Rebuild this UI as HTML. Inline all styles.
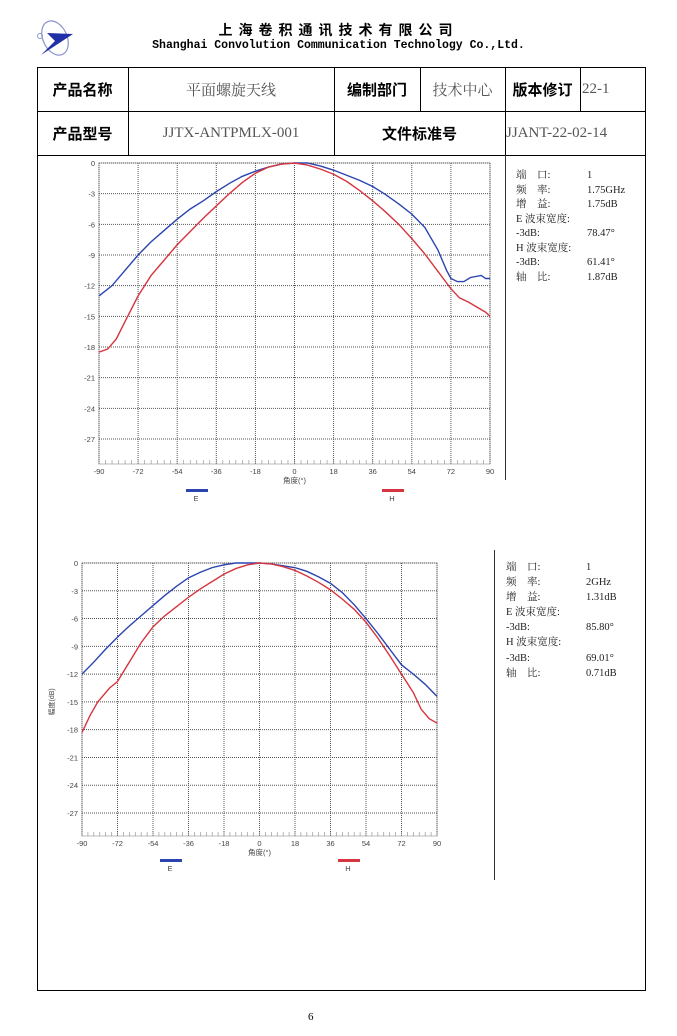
<!DOCTYPE html>
<html><head><meta charset="utf-8">
<style>
body{margin:0;width:677px;height:1036px;background:#fff;position:relative;font-family:"Liberation Serif","Noto Serif CJK SC",serif;overflow:hidden}
.a{position:absolute}
.cell{position:absolute;display:flex;align-items:center;justify-content:center;font-size:15px}
.b{font-weight:bold;font-family:"Liberation Sans","Noto Sans CJK SC",sans-serif;color:#000}
.g{color:#555}
.info{position:absolute;font-size:10.5px;color:#222;white-space:nowrap;line-height:14.5px}
.info div{position:relative;height:14.5px}
.info span{position:absolute;top:0}
</style></head><body>
<svg class="a" style="left:35px;top:17px" width="42" height="42" viewBox="0 0 42 42">
<ellipse cx="20" cy="21" rx="12" ry="18" fill="none" stroke="#8b95c9" stroke-width="1.2" transform="rotate(-25 20 21)"/>
<circle cx="5" cy="19" r="2.5" fill="none" stroke="#8b95c9"/>
<polygon points="12,16 38,17 6,38 20,24" fill="#2230a8"/>
</svg>
<div class="a b" style="left:0;width:677px;top:20px;text-align:center;font-size:14px;letter-spacing:6px">上海卷积通讯技术有限公司</div>
<div class="a" style="left:0;width:677px;top:39px;text-align:center;font-size:11.5px;font-weight:bold;font-family:'Liberation Mono',monospace">Shanghai Convolution Communication Technology Co.,Ltd.</div>

<div class="a" style="left:37px;top:67px;width:607px;height:922px;border:1px solid #000"></div>
<div class="a" style="left:37px;top:111px;width:608px;height:1px;background:#000"></div>
<div class="a" style="left:37px;top:155px;width:608px;height:1px;background:#000"></div>
<div class="a" style="left:128px;top:67px;width:1px;height:88px;background:#000"></div>
<div class="a" style="left:334px;top:67px;width:1px;height:88px;background:#000"></div>
<div class="a" style="left:420px;top:67px;width:1px;height:44px;background:#000"></div>
<div class="a" style="left:505px;top:67px;width:1px;height:88px;background:#000"></div>
<div class="a" style="left:580px;top:67px;width:1px;height:44px;background:#000"></div>

<div class="cell b" style="left:37px;top:67px;width:91px;height:44px">产品名称</div>
<div class="cell g" style="left:128px;top:67px;width:206px;height:44px">平面螺旋天线</div>
<div class="cell b" style="left:334px;top:67px;width:86px;height:44px">编制部门</div>
<div class="cell g" style="left:420px;top:67px;width:85px;height:44px">技术中心</div>
<div class="cell b" style="left:505px;top:67px;width:75px;height:44px">版本修订</div>
<div class="cell g" style="left:582px;top:67px;width:40px;height:44px;justify-content:flex-start">22-1</div>
<div class="cell b" style="left:37px;top:111px;width:91px;height:44px">产品型号</div>
<div class="cell g" style="left:128px;top:111px;width:206px;height:44px">JJTX-ANTPMLX-001</div>
<div class="cell b" style="left:334px;top:111px;width:171px;height:44px">文件标准号</div>
<div class="cell g" style="left:506px;top:111px;width:120px;height:44px;justify-content:flex-start">JJANT-22-02-14</div>

<div class="a" style="left:505px;top:155px;width:1px;height:325px;background:#333"></div>
<div class="a" style="left:494px;top:550px;width:1px;height:330px;background:#333"></div>

<div class="info" style="left:516px;top:169px;width:120px"><div><span>端　口:</span><span style="left:71px">1</span></div><div><span>频　率:</span><span style="left:71px">1.75GHz</span></div><div><span>增　益:</span><span style="left:71px">1.75dB</span></div><div><span>E 波束宽度:</span></div><div><span>-3dB:</span><span style="left:71px">78.47°</span></div><div><span>H 波束宽度:</span></div><div><span>-3dB:</span><span style="left:71px">61.41°</span></div><div><span>轴　比:</span><span style="left:71px">1.87dB</span></div></div>
<div class="info" style="left:506px;top:561px;width:120px"><div style="height:15.1px"><span>端　口:</span><span style="left:80px">1</span></div><div style="height:15.1px"><span>频　率:</span><span style="left:80px">2GHz</span></div><div style="height:15.1px"><span>增　益:</span><span style="left:80px">1.31dB</span></div><div style="height:15.1px"><span>E 波束宽度:</span></div><div style="height:15.1px"><span>-3dB:</span><span style="left:80px">85.80°</span></div><div style="height:15.1px"><span>H 波束宽度:</span></div><div style="height:15.1px"><span>-3dB:</span><span style="left:80px">69.01°</span></div><div style="height:15.1px"><span>轴　比:</span><span style="left:80px">0.71dB</span></div></div>

<svg id="c1" class="a" style="left:0;top:0" width="677" height="1036"></svg>
<div class="a" style="left:308px;top:1011px;font-size:11px">6</div>

<script>
const ticksX=[-90,-72,-54,-36,-18,0,18,36,54,72,90];
const ticksY=[0,-3,-6,-9,-12,-15,-18,-21,-24,-27];
const c1Angles=[-90,-84,-78,-72,-66,-60,-54,-48,-42,-36,-30,-24,-18,-12,-6,0,6,12,18,24,30,36,42,48,54,60,66,70,72,75,78,81,86,88,90];
const c1E=[-13,-12,-10.5,-9,-7.7,-6.6,-5.5,-4.5,-3.7,-2.8,-2.0,-1.3,-0.8,-0.4,-0.1,0,0,-0.3,-0.7,-1.2,-1.7,-2.3,-3.1,-4.0,-5.0,-6.3,-8.5,-10.5,-11.3,-11.6,-11.6,-11.2,-11.0,-11.3,-11.3];
const c1HAngles=[-90,-86,-82,-78,-72,-66,-60,-54,-48,-42,-36,-30,-24,-18,-12,-6,0,6,12,18,24,30,36,42,48,54,60,66,72,76,80,84,88,90];
const c1H=[-18.5,-18.2,-17.2,-15.5,-13,-11,-9.5,-8,-6.7,-5.4,-4.2,-3,-1.9,-1.0,-0.4,-0.1,0,-0.2,-0.6,-1.1,-1.8,-2.7,-3.7,-4.8,-6,-7.4,-8.9,-10.6,-12.3,-13.2,-13.6,-14.1,-14.6,-15];
const c2EAngles=[-90,-84,-78,-72,-66,-60,-54,-48,-42,-36,-30,-24,-18,-12,-6,0,6,12,18,24,30,36,42,48,54,60,66,72,78,84,90];
const c2E=[-12,-10.7,-9.3,-8,-6.8,-5.7,-4.6,-3.5,-2.5,-1.6,-1.0,-0.5,-0.2,0,0,0,-0.1,-0.3,-0.5,-0.9,-1.5,-2.2,-3.2,-4.5,-6.0,-7.6,-9.3,-11,-12,-13.1,-14.4];
const c2HAngles=[-90,-86,-82,-76,-72,-66,-60,-54,-48,-42,-36,-30,-24,-18,-12,-6,0,6,12,18,24,30,36,42,48,54,60,66,72,78,82,86,90];
const c2H=[-18.3,-16.5,-15,-13.5,-12.8,-10.7,-8.6,-6.9,-5.7,-4.7,-3.7,-2.8,-2.0,-1.2,-0.6,-0.2,0,-0.1,-0.4,-0.8,-1.4,-2.1,-2.9,-3.9,-5.0,-6.4,-8.1,-10,-12,-14,-15.8,-16.8,-17.3];

const NS='http://www.w3.org/2000/svg';
const svg=document.getElementById('c1');
function el(t,a,p){const e=document.createElementNS(NS,t);for(const k in a)e.setAttribute(k,a[k]);(p||svg).appendChild(e);return e;}
function chart(cfg,n){
  const g=el('g',{});
  
  
  const X=v=>cfg.l+(v+90)/180*(cfg.r-cfg.l);
  const Y=v=>cfg.t+(-v)/27*(cfg.y27-cfg.t);
  el('rect',{x:cfg.l,y:cfg.t,width:cfg.r-cfg.l,height:cfg.b-cfg.t,fill:'none',stroke:'#bbb','stroke-width':1},g);
  ticksX.forEach(v=>{el('line',{x1:X(v),x2:X(v),y1:cfg.t,y2:cfg.b,stroke:'#555','stroke-width':1,'stroke-dasharray':'1 1'},g);
    const t=el('text',{x:X(v),y:cfg.b+10,'font-size':7.5,'text-anchor':'middle',fill:'#444','font-family':'Liberation Sans'},g);t.textContent=v;});
  for(let v=-90;v<=90;v+=3)el('line',{x1:X(v),x2:X(v),y1:cfg.b-4,y2:cfg.b,stroke:'#888','stroke-width':0.6},g);
  ticksY.forEach(v=>{el('line',{x1:cfg.l,x2:cfg.r,y1:Y(v),y2:Y(v),stroke:'#555','stroke-width':1,'stroke-dasharray':'1 1'},g);
    const t=el('text',{x:cfg.l-4,y:Y(v)+3,'font-size':7.5,'text-anchor':'end',fill:'#444','font-family':'Liberation Sans'},g);t.textContent=v;});
  const xl=el('text',{x:(cfg.l+cfg.r)/2,y:cfg.b+19,'font-size':7.5,'text-anchor':'middle',fill:'#444','font-family':'Liberation Sans,Noto Sans CJK SC,sans-serif'},g);xl.textContent='角度(°)';
  
  if(cfg.ylab){const yl=el('text',{x:0,y:0,'font-size':7,'text-anchor':'middle',fill:'#444',transform:`translate(${cfg.l-28},${Y(-15)}) rotate(-90)`,'font-family':'Liberation Sans,Noto Sans CJK SC,sans-serif'},g);yl.textContent='幅度(dB)';
    }
  const pE=el('polyline',{points:cfg.eA.map((a,i)=>X(a)+','+Y(cfg.e[i])).join(' '),fill:'none',stroke:'#2a44b0','stroke-width':1.4},g);
  
  const pH=el('polyline',{points:cfg.hA.map((a,i)=>X(a)+','+Y(cfg.h[i])).join(' '),fill:'none',stroke:'#d5353e','stroke-width':1.4},g);
  
  [['E','#2a44b0',cfg.le],['H','#d5353e',cfg.lh]].forEach(([n2,c,x])=>{
    const r=el('rect',{x:x,y:cfg.ly,width:22,height:3,fill:c},g);
    
    const t=el('text',{x:x+10,y:cfg.ly+12,'font-size':7.5,'text-anchor':'middle',fill:'#444','font-family':'Liberation Sans'},g);t.textContent=n2;});
}
chart({l:99,r:490,t:163,y27:439,b:464,eA:c1Angles,e:c1E,hA:c1HAngles,h:c1H,le:186,lh:382,ly:489,ylab:false},1);
chart({l:82,r:437,t:563,y27:813,b:836,eA:c2EAngles,e:c2E,hA:c2HAngles,h:c2H,le:160,lh:338,ly:859,ylab:true},2);
</script>
</body></html>
